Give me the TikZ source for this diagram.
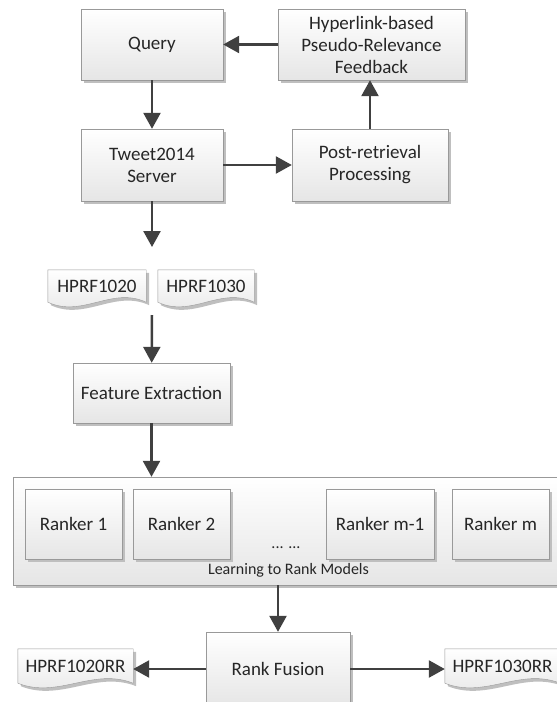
\documentclass[tikz,border=0pt]{standalone}
\usepackage{fontspec}
\setmainfont{Carlito}
\usetikzlibrary{arrows.meta,shadows,backgrounds,calc}

% outline of a "document" node: straight top and sides, wavy bottom
\newcommand{\docshape}[1]{%
  \path[docline] (#1.north west) -- (#1.north east) -- (#1.south east)
    .. controls ($(#1.south east)!0.35!(#1.south west)+(0,-16)$) and ($(#1.south east)!0.65!(#1.south west)+(0,16)$) .. (#1.south west) -- cycle;}

\begin{document}
\begin{tikzpicture}[x=1pt,y=-1pt,
    font=\fontsize{19}{22}\selectfont,text=black!85,
    every text node part/.style={align=center},
    shade/.style={top color=white,bottom color=black!10,
      drop shadow={shadow xshift=3pt,shadow yshift=-3pt,fill=black!25,opacity=1}},
    box/.style={draw=black!40,shade,inner sep=0pt},
    docline/.style={draw=black!40,shade},
    doc/.style={inner sep=0pt},
    flow/.style={draw=black!75,line width=2.5pt,-{Triangle[length=16pt,width=17pt]}},
    small/.style={font=\fontsize{16}{19}\selectfont}]

    \useasboundingbox (0,0) rectangle (557,702);

    % --------------------------------------------------------- %
    % ------------- retrieval loop
    % --------------------------------------------------------- %
    \node[box,minimum width=142,minimum height=71] (query) at (152,44.5) {Query};
    \node[box,minimum width=187,minimum height=71] (hprf) at (371.5,44.5) {Hyperlink-based\\Pseudo-Relevance\\Feedback};
    \node[box,minimum width=142,minimum height=72] (server) at (152,165) {Tweet2014\\Server};
    \node[box,minimum width=156,minimum height=72] (post) at (370,165) {Post-retrieval\\Processing};

    \draw[flow] (hprf) -- (query);
    \draw[flow] (query) -- (server);
    \draw[flow] (server) -- (post);
    \draw[flow] (post.north) -- (post.north |- hprf.south);

    \coordinate (srvout) at (152,247);
    \draw[flow] (server) -- (srvout);

    % --------------------------------------------------------- %
    % ------------- runs
    % --------------------------------------------------------- %
    \node[doc,minimum width=98,minimum height=32] (doca) at (97,286) {HPRF1020};
    \node[doc,minimum width=96,minimum height=32] (docb) at (206,286) {HPRF1030};

    \coordinate (docsout) at (152,315);
    \node[box,minimum width=157,minimum height=60] (feature) at (151.5,393) {Feature Extraction};
    \draw[flow] (docsout) -- (feature);

    % --------------------------------------------------------- %
    % ------------- learning to rank
    % --------------------------------------------------------- %
    \node[box,minimum width=551,minimum height=108] (ltr) at (288.5,531) {};
    \draw[flow] (feature.south) -- (feature.south |- ltr.north);

    \node[box,minimum width=97,minimum height=70] (rank1) at (73.5,524) {Ranker 1};
    \node[box,minimum width=97,minimum height=70] (rank2) at (181.5,524) {Ranker 2};
    \node[box,minimum width=108,minimum height=70] (rankm1) at (380,524) {Ranker m-1};
    \node[box,minimum width=97,minimum height=70] (rankm) at (500.5,524) {Ranker m};
    \node[small] (dots) at (286,548) {... ...};
    \node[small] (ltrlabel) at (288.5,570) {Learning to Rank Models};

    % --------------------------------------------------------- %
    % ------------- fusion
    % --------------------------------------------------------- %
    \node[box,minimum width=144,minimum height=74] (fusion) at (278,669) {Rank Fusion};
    \draw[flow] (fusion.north |- ltr.south) -- (fusion.north);

    \node[doc,minimum width=115,minimum height=34] (outa) at (75.5,666) {HPRF1020RR};
    \node[doc,minimum width=115,minimum height=34] (outb) at (502.5,666) {HPRF1030RR};
    \draw[flow] (fusion.west) -- (fusion.west -| outa.east);
    \draw[flow] (fusion.east) -- (fusion.east -| outb.west);

    \begin{pgfonlayer}{background}
      \docshape{doca}
      \docshape{docb}
      \docshape{outa}
      \docshape{outb}
    \end{pgfonlayer}

  \end{tikzpicture}
\end{document}
